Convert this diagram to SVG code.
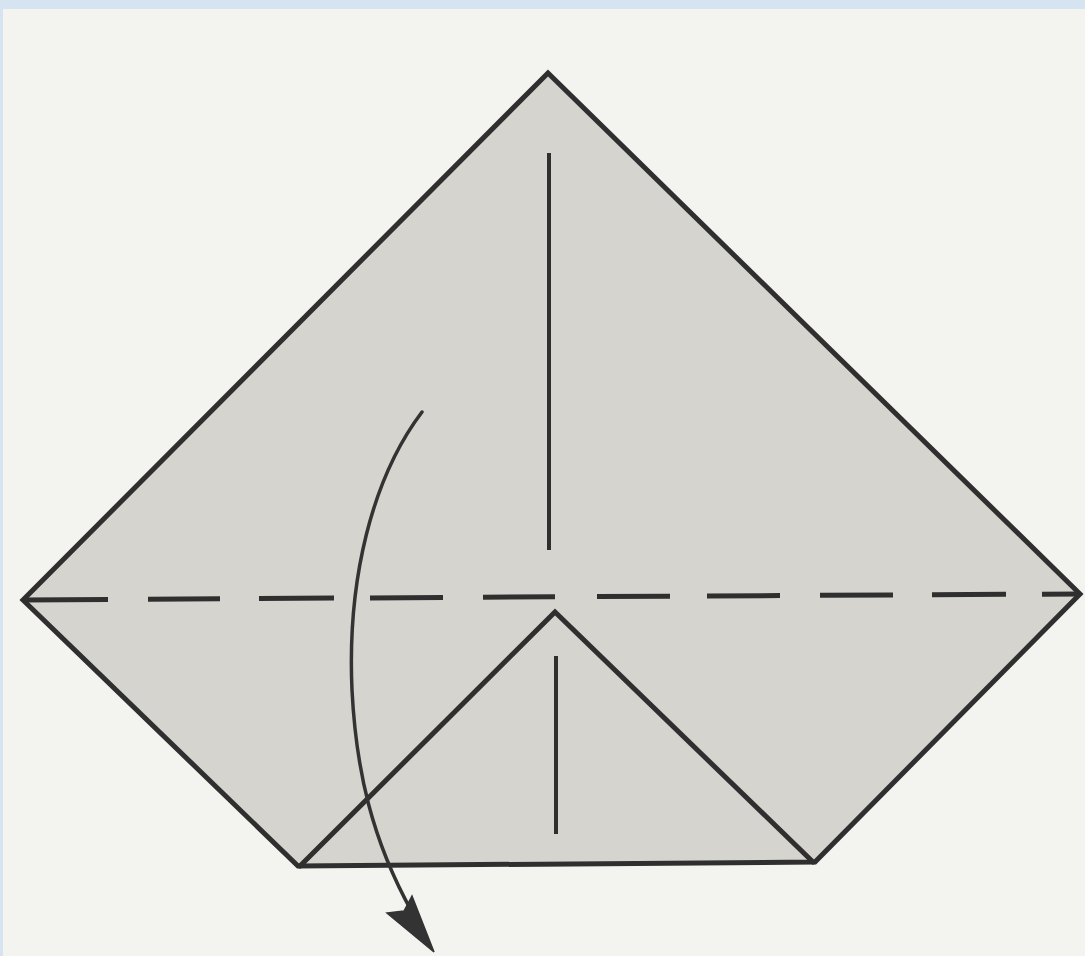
<svg xmlns="http://www.w3.org/2000/svg" width="1085" height="956" viewBox="0 0 1085 956">
<defs>
<style>
.edge{fill:none;stroke:#2f2f2f;stroke-width:5;stroke-linejoin:miter;stroke-linecap:round}
.paper{fill:#d5d4cf}
.crease{fill:none;stroke:#2f2f2f;stroke-width:4;stroke-linecap:butt}
.valley{fill:none;stroke:#2f2f2f;stroke-width:5;stroke-linecap:butt}
.arrow{fill:none;stroke:#333;stroke-width:3.5;stroke-linecap:round}
</style>
</defs>
<rect x="0" y="0" width="1085" height="956" fill="#f3f3ef"/>
<rect x="0" y="0" width="1085" height="9" fill="#d6e4f2"/>
<rect x="0" y="0" width="3" height="956" fill="#d6e4f2"/>
<g id="paper">
<polygon points="548,73 1080,594 815,862 298,866 23,600" class="edge paper"/>
</g>
<g id="flap">
<polyline points="300,866 555,612 813,862" class="edge"/>
</g>
<g id="creases">
<line x1="549" y1="153" x2="549" y2="550" class="crease"/>
<line x1="556" y1="656" x2="556" y2="834" class="crease"/>
<path class="valley" d="M23,600 L108,599.5 M148,599.2 L220,598.8 M259,598.6 L334,598.1 M370,597.9 L443,597.4 M483,597.2 L555,596.8 M597,596.6 L670,596.2 M707,596 L780,595.6 M820,595.3 L893,594.9 M932,594.7 L1006,594.3 M1042,594.2 L1080,594"/>
</g>
<g id="connectors">
<path class="arrow" d="M422,412 C372,478 347,580 352,690 C356,770 372,840 412,912"/>
<polygon points="434,952 387,913 404,911 412,896" fill="#333" stroke="#333" stroke-width="1.5" stroke-linejoin="miter"/>
</g>
</svg>
